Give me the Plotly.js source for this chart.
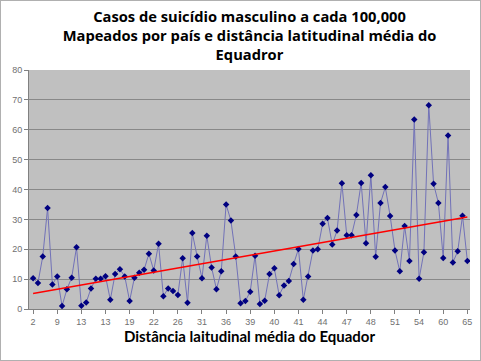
<!DOCTYPE html>
<html>
<head>
<meta charset="utf-8">
<script src="https://cdn.plot.ly/plotly-3.0.1.min.js"></script>
<style>
html,body{margin:0;padding:0;background:#fff;}
#chart{width:481px;height:361px;box-sizing:border-box;border:1px solid #b0b0b0;}
</style>
</head>
<body>
<div id="chart"></div>
<script>
// Male suicide cases per 100,000 by country, ordered by mean latitudinal distance from the Equator
const suicideRates = [
  10.3, 8.7, 17.6, 33.8, 8.2, 10.9, 1.0, 6.6, 10.5, 20.7,
  1.1, 2.2, 6.9, 10.1, 10.1, 11.0, 3.1, 11.7, 13.3, 10.9,
  2.7, 10.5, 12.1, 13.1, 18.5, 12.9, 21.8, 4.3, 6.9, 6.0,
  4.7, 17.0, 2.1, 25.4, 17.6, 10.3, 24.5, 13.9, 6.6, 12.6,
  35.0, 29.6, 17.6, 1.9, 2.7, 5.8, 17.8, 1.7, 2.8, 11.7,
  13.6, 4.6, 7.9, 9.4, 15.1, 20.1, 3.1, 10.9, 19.6, 20.0,
  28.5, 30.5, 21.6, 26.3, 42.1, 24.7, 24.7, 31.5, 42.2, 22.0,
  44.8, 17.5, 35.5, 40.8, 31.1, 19.6, 12.6, 27.8, 16.1, 63.4,
  10.1, 19.0, 68.2, 41.9, 35.5, 17.1, 58.1, 15.6, 19.3, 31.2,
  16.1
];
// Latitude labels shown on the category axis (every 5th country)
const latitudeLabels = ["2","9","13","13","19","22","26","31","36","39","40","41","44","47","48","51","54","60","65"];
const labelStep = 5;

const idx = suicideRates.map((_, i) => i);
const tickvals = latitudeLabels.map((_, k) => k * labelStep);

// linear trend line (least squares) computed from the series
const n = suicideRates.length;
const mx = idx.reduce((a, b) => a + b, 0) / n;
const my = suicideRates.reduce((a, b) => a + b, 0) / n;
let sxy = 0, sxx = 0;
for (let i = 0; i < n; i++) { sxy += (idx[i] - mx) * (suicideRates[i] - my); sxx += (idx[i] - mx) ** 2; }
const slope = sxy / sxx, icpt = my - slope * mx;
const trendX = [idx[0], idx[n - 1]];
const trendY = trendX.map(x => icpt + slope * x);

const data = [
  {
    x: idx, y: suicideRates, type: 'scatter', mode: 'lines+markers',
    line: {color: '#7272b8', width: 1},
    marker: {symbol: 'diamond', size: 5, color: '#000080'},
    hoverinfo: 'y'
  },
  {
    x: trendX, y: trendY, type: 'scatter', mode: 'lines',
    line: {color: '#ff0000', width: 1.5}, hoverinfo: 'skip'
  }
];

const layout = {
  width: 481, height: 361,
  margin: {l: 28, r: 12, t: 69, b: 53},
  paper_bgcolor: 'rgba(0,0,0,0)',
  plot_bgcolor: '#c0c0c0',
  showlegend: false,
  font: {family: 'Liberation Sans, Arial, sans-serif', size: 9, color: '#707070'},
  title: {
    text: '<b>Casos de suicídio masculino a cada 100,000<br>Mapeados por país e distância latitudinal média do<br>Equadror</b>',
    font: {family: 'Open Sans, sans-serif', size: 14.7, color: '#000000'},
    x: 0.5, xanchor: 'center', xref: 'paper',
    y: 0.942, yanchor: 'middle', yref: 'container'
  },
  xaxis: {
    range: [-0.85, 90.55],
    tickmode: 'array', tickvals: tickvals, ticktext: latitudeLabels,
    ticks: 'outside', ticklen: 4, tickcolor: '#808080',
    showgrid: false, zeroline: false,
    showline: true, linecolor: '#808080', linewidth: 1,
    tickfont: {size: 9, color: '#707070'},
    title: {text: '<b>Distância laitudinal média do Equador</b>',
            font: {family: 'Lato, sans-serif', size: 15, color: '#000000'}, standoff: 5},
    fixedrange: true
  },
  yaxis: {
    range: [0, 80], dtick: 10,
    ticks: 'outside', ticklen: 4, tickcolor: '#808080',
    showgrid: true, gridcolor: '#888888', gridwidth: 1,
    zeroline: false, showline: true, linecolor: '#808080', linewidth: 1,
    tickfont: {size: 9, color: '#707070'},
    fixedrange: true
  }
};

Plotly.newPlot('chart', data, layout, {displayModeBar: false, staticPlot: true});
</script>
</body>
</html>
